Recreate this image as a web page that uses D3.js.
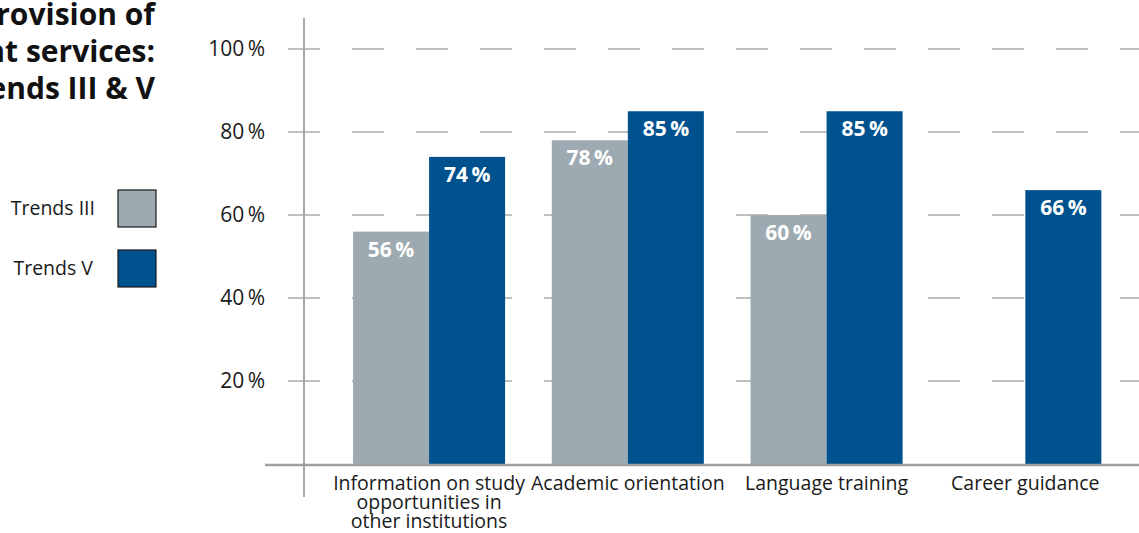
<!DOCTYPE html>
<html><head><meta charset="utf-8">
<script src="https://cdn.jsdelivr.net/npm/d3@7"></script>
<style>
body{margin:0;background:#fff;}
svg{display:block;font-family:"Open Sans", sans-serif;}
</style></head>
<body><svg id="c" width="1139" height="533"></svg>
<script>
const categories = ["Information on study|opportunities in|other institutions", "Academic orientation", "Language training", "Career guidance"];
const trendsIII = [56, 78, 60, null];
const trendsV = [74, 85, 85, 66];
const seriesNames = ["Trends III", "Trends V"];
const seriesColors = ["#9DAAB1", "#00528F"];
const yTicks = [20, 40, 60, 80, 100];
const titleLines = ["Provision of", "student services:", "Trends III & V"];

const svg = d3.select("#c");
const W = 1139;
const y = d3.scaleLinear().domain([0, 100]).range([464, 49]);
const x = d3.scaleBand().domain(categories).range([329.7, 1124.7]).paddingInner(0.235).paddingOuter(0.1175);
const xs = d3.scaleBand().domain(seriesNames).range([0, x.bandwidth()]);

// gridlines (dashed)
svg.append("g").selectAll("line").data(yTicks).join("line")
  .attr("x1", 288).attr("x2", W).attr("y1", d => y(d)).attr("y2", d => y(d))
  .attr("stroke", "#ababab").attr("stroke-width", 1.5).attr("stroke-dasharray", "32 32");

// y axis labels
const yAxis = d3.axisLeft(y).tickValues(yTicks).tickSize(0).tickPadding(0).tickFormat(d => d + "\u2009%");
const ya = svg.append("g").attr("transform", "translate(265,0)").call(yAxis);
ya.select(".domain").remove();
ya.selectAll("text").attr("font-size", 21).attr("fill", "#1a1a1a").attr("font-family", "'Open Sans', sans-serif");

// bars
const data = [];
categories.forEach((c, i) => {
  [trendsIII[i], trendsV[i]].forEach((v, j) => { if (v != null) data.push({c, s: seriesNames[j], v, j}); });
});
svg.append("g").selectAll("rect").data(data).join("rect")
  .attr("x", d => x(d.c) + xs(d.s)).attr("width", xs.bandwidth())
  .attr("y", d => y(d.v)).attr("height", d => y(0) - y(d.v))
  .attr("fill", d => seriesColors[d.j]);

svg.append("g").selectAll("text").data(data).join("text")
  .attr("x", d => x(d.c) + xs(d.s) + xs.bandwidth() / 2)
  .attr("y", d => y(d.v) + 25)
  .attr("text-anchor", "middle").attr("fill", "#fff").attr("font-weight", "bold").attr("font-size", 21)
  .text(d => d.v + "\u2009%");

// axes lines
svg.append("line").attr("x1", 304).attr("x2", 304).attr("y1", 18).attr("y2", 497).attr("stroke", "#a8a8a8").attr("stroke-width", 2);
svg.append("line").attr("x1", 265).attr("x2", W).attr("y1", 465).attr("y2", 465).attr("stroke", "#a0a0a0").attr("stroke-width", 2.5);

// x labels
const xl = svg.append("g").selectAll("text").data(categories).join("text")
  .attr("x", d => x(d) + x.bandwidth() / 2).attr("y", 490)
  .attr("text-anchor", "middle").attr("font-size", 19.5).attr("fill", "#1a1a1a");
xl.each(function(d) {
  const lines = d.split("|");
  d3.select(this).selectAll("tspan").data(lines).join("tspan")
    .attr("x", x(d) + x.bandwidth() / 2).attr("dy", (l, i) => i === 0 ? 0 : 19).text(l => l);
});

// title
svg.append("g").selectAll("text").data(titleLines).join("text")
  .attr("x", 155).attr("y", (d, i) => 25 + i * 37)
  .attr("text-anchor", "end").attr("font-weight", "bold").attr("font-size", 30).attr("fill", "#111")
  .text(d => d);

// legend
const lg = svg.append("g").selectAll("g").data(seriesNames).join("g")
  .attr("transform", (d, i) => `translate(0,${i * 60})`);
lg.append("rect").attr("x", 118).attr("y", 190).attr("width", 38).attr("height", 37)
  .attr("fill", (d, i) => seriesColors[i]).attr("stroke", "#1a1a1a").attr("stroke-width", 1.2);
lg.append("text").attr("x", (d, i) => i === 0 ? 95 : 93).attr("y", 215).attr("text-anchor", "end")
  .attr("font-size", 19.5).attr("fill", "#1a1a1a").text(d => d);
</script></body></html>
